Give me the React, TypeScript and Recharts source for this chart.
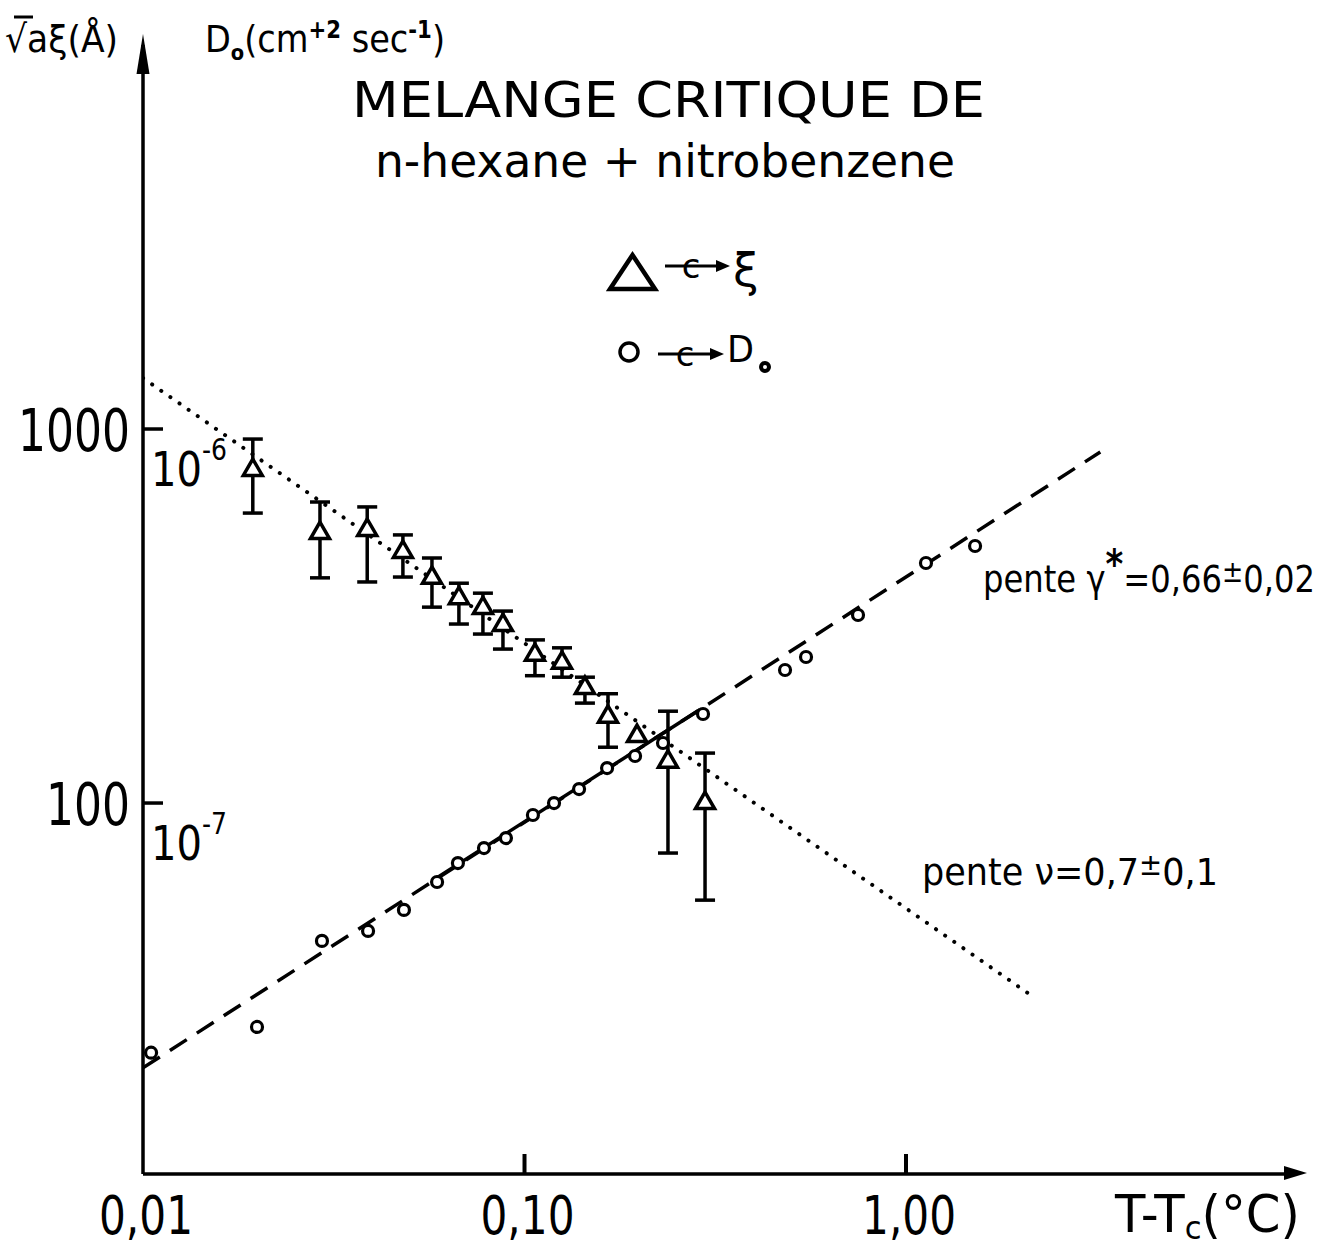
import { ComposedChart, Scatter, Line, XAxis, YAxis, ErrorBar } from 'recharts'

const W = 1331
const H = 1248
const FONT = '"DejaVu Sans", sans-serif'

// ξ (triangles): T - Tc (°C), √a·ξ (Å), ends of the error bars
const xiT = [0.0194, 0.0291, 0.0387, 0.048, 0.0572, 0.0673, 0.0778, 0.0878, 0.1065, 0.1254, 0.144, 0.1655, 0.2377, 0.2973]
const xiVal = [777, 527, 537, 469, 400, 353, 332, 299, 249, 237, 203, 170, 129, 100]
const xiHi = [940, 638, 619, 521, 452, 387, 364, 326, 273, 260, 217, 196, 176, 136]
const xiLo = [596, 400, 390, 402, 334, 301, 283, 258, 219, 217, 185, 141, 73.5, 55]
// the one triangle drawn without an error bar
const xiT2 = [0.1972]
const xiVal2 = [151]

// D0 (circles), in units of 1e-9 cm2/s so they sit on the same log axis (1000 <-> 1e-6)
const dT = [0.0105, 0.0199, 0.02945, 0.0389, 0.0483, 0.059, 0.0669, 0.0783, 0.0894, 0.1052, 0.1195, 0.139, 0.1646, 0.1949, 0.2307, 0.2937, 0.4818, 0.5469, 0.7485, 1.128, 1.517]
const dVal = [21.5, 25.2, 42.8, 45.5, 51.8, 61.5, 69.1, 75.8, 80.6, 92.9, 100, 109, 124, 133.6, 144.7, 173, 226.8, 245.7, 318.2, 438.3, 486.6]

// fitted lines (end points)
const nuFitT = [0.01, 2.09]
const nuFitV = [1368, 31]
const gFitT = [0.01, 3.23]
const gFitV = [19.6, 868]
const gSolidT = [0.058, 0.288]
const gSolidV = [62.5, 177.6]

const xTicks = [0.01, 0.1, 1]
const xTickLabels = ['0,01', '0,10', '1,00']
const yTicks = [100, 1000]
const yTickLabels = ['100', '1000']
const d0Exp = ['-7', '-6']

const xiData = xiT.map((t, i) => ({ t, v: xiVal[i], err: [xiVal[i] - xiLo[i], xiHi[i] - xiVal[i]] }))
const xiData2 = xiT2.map((t, i) => ({ t, v: xiVal2[i] }))
const dData = dT.map((t, i) => ({ t, v: dVal[i] }))
const nuFit = nuFitT.map((t, i) => ({ t, v: nuFitV[i] }))
const gFit = gFitT.map((t, i) => ({ t, v: gFitV[i] }))
const gSolid = gSolidT.map((t, i) => ({ t, v: gSolidV[i] }))

function Triangle(p: any) {
  const { cx, cy } = p
  const s = 19
  const h = s * 0.866
  return (
    <path
      d={`M${cx},${cy - (2 * h) / 3} L${cx + s / 2},${cy + h / 3} L${cx - s / 2},${cy + h / 3} Z`}
      fill="#fff" stroke="#000" strokeWidth={3.5}
    />
  )
}

function Ring(p: any) {
  return <circle cx={p.cx} cy={p.cy} r={5.5} fill="#fff" stroke="#000" strokeWidth={3.2} />
}

function XTick({ x, y, payload }: any) {
  const i = xTicks.indexOf(payload.value)
  return (
    <g>
      {i > 0 && <line x1={x} y1={y} x2={x} y2={y - 20} stroke="#000" strokeWidth={4} />}
      <text x={x + 3} y={y + 60} textAnchor="middle" fontSize={54} fontFamily={FONT}
        textLength={94} lengthAdjust="spacingAndGlyphs">{xTickLabels[i]}</text>
    </g>
  )
}

function YTick({ x, y, payload }: any) {
  const i = yTicks.indexOf(payload.value)
  return (
    <g>
      <line x1={x} y1={y} x2={x + 20} y2={y} stroke="#000" strokeWidth={3.5} />
      <text x={x - 13} y={y + 22} textAnchor="end" fontSize={58} fontFamily={FONT}
        textLength={yTickLabels[i].length * 28} lengthAdjust="spacingAndGlyphs">{yTickLabels[i]}</text>
      <text x={x + 8} y={y + 57} fontSize={48} fontFamily={FONT} textLength={76} lengthAdjust="spacingAndGlyphs">
        10<tspan dy={-26} fontSize={30}>{d0Exp[i]}</tspan>
      </text>
    </g>
  )
}

export default function App() {
  return (
    <div style={{ position: 'absolute', left: 0, top: 0, width: W, height: H, background: '#fff' }}>
      <ComposedChart width={W} height={H} margin={{ top: 45, right: 41, bottom: 73, left: 142 }}>
        <XAxis type="number" dataKey="t" scale="log" domain={[0.01, 10.15]} allowDataOverflow
          ticks={xTicks} interval={0} tick={(p: any) => <XTick {...p} />} tickSize={0} tickMargin={0}
          tickLine={false} height={1} axisLine={{ stroke: '#000', strokeWidth: 3.5 }} />
        <YAxis type="number" dataKey="v" scale="log" domain={[10.19, 10634]} allowDataOverflow
          ticks={yTicks} interval={0} tick={(p: any) => <YTick {...p} />} tickSize={0} tickMargin={0}
          tickLine={false} width={1} axisLine={{ stroke: '#000', strokeWidth: 3.5 }} />
        <Line data={nuFit} dataKey="v" stroke="#000" strokeWidth={4} strokeDasharray="0.1 11"
          strokeLinecap="round" dot={false} activeDot={false} isAnimationActive={false} />
        <Line data={gFit} dataKey="v" stroke="#000" strokeWidth={3.5} strokeDasharray="20 12"
          dot={false} activeDot={false} isAnimationActive={false} />
        <Line data={gSolid} dataKey="v" stroke="#000" strokeWidth={3.5}
          dot={false} activeDot={false} isAnimationActive={false} />
        <Scatter data={dData} dataKey="v" shape={Ring} isAnimationActive={false} />
        <Scatter data={xiData} dataKey="v" shape={Triangle} isAnimationActive={false}>
          <ErrorBar dataKey="err" direction="y" width={10} stroke="#000" strokeWidth={3.5} />
        </Scatter>
        <Scatter data={xiData2} dataKey="v" shape={Triangle} isAnimationActive={false} />
      </ComposedChart>

      <svg width={W} height={H} style={{ position: 'absolute', left: 0, top: 0, pointerEvents: 'none' }}
        fontFamily={FONT} fill="#000">
        {/* axis arrow heads */}
        <polygon points="143,34 136.5,74 149.5,74" fill="#000" />
        <polygon points="1307,1173 1284,1166 1284,1180" fill="#000" />

        {/* axis titles */}
        <text x={5} y={52} fontSize={38} textLength={113} lengthAdjust="spacingAndGlyphs">√aξ(Å)</text>
        <line x1={14} y1={17} x2={33} y2={17} stroke="#000" strokeWidth={3} />
        <text x={205} y={52} fontSize={38} textLength={240} lengthAdjust="spacingAndGlyphs">
          D<tspan dy={8} fontSize={22} fontWeight="bold">o</tspan>
          <tspan dy={-8}>(cm</tspan>
          <tspan dy={-14} fontSize={24} fontWeight="bold">+2</tspan>
          <tspan dy={14}> sec</tspan>
          <tspan dy={-14} fontSize={24} fontWeight="bold">-1</tspan>
          <tspan dy={14}>)</tspan>
        </text>
        <text x={1115} y={1232} fontSize={52} textLength={185} lengthAdjust="spacingAndGlyphs">
          T-T<tspan dy={7} fontSize={32}>c</tspan><tspan dy={-7}>(°C)</tspan>
        </text>

        {/* title */}
        <text x={352} y={117} fontSize={50} textLength={633} lengthAdjust="spacingAndGlyphs">MELANGE CRITIQUE DE</text>
        <text x={375} y={177} fontSize={46} textLength={580} lengthAdjust="spacingAndGlyphs">n-hexane + nitrobenzene</text>

        {/* legend */}
        <path d="M610,289 L655,289 L632.5,255 Z" fill="none" stroke="#000" strokeWidth={4.5} strokeLinejoin="miter" />
        <line x1={665} y1={266} x2={718} y2={266} stroke="#000" strokeWidth={3} />
        <polygon points="730,266 716,260 716,272" fill="#000" />
        <text x={691} y={278} fontSize={34} textAnchor="middle">c</text>
        <text x={733} y={286} fontSize={46}>ξ</text>

        <circle cx={629} cy={352} r={9} fill="none" stroke="#000" strokeWidth={3.5} />
        <line x1={658} y1={354} x2={712} y2={354} stroke="#000" strokeWidth={3} />
        <polygon points="724,354 710,348 710,360" fill="#000" />
        <text x={685} y={366} fontSize={34} textAnchor="middle">c</text>
        <text x={727} y={362} fontSize={38} textLength={27} lengthAdjust="spacingAndGlyphs">D</text>
        <circle cx={765} cy={367} r={4} fill="#fff" stroke="#000" strokeWidth={4} />

        {/* slopes */}
        <text x={983} y={592} fontSize={38} textLength={332} lengthAdjust="spacingAndGlyphs">
          pente γ<tspan dy={-14} fontSize={40} fontWeight="bold">*</tspan><tspan dy={14}>=0,66</tspan>
          <tspan dy={-10} fontSize={30}>±</tspan><tspan dy={10}>0,02</tspan>
        </text>
        <text x={922} y={885} fontSize={38} textLength={296} lengthAdjust="spacingAndGlyphs">
          pente ν=0,7<tspan dy={-10} fontSize={30}>±</tspan><tspan dy={10}>0,1</tspan>
        </text>
      </svg>
    </div>
  )
}
